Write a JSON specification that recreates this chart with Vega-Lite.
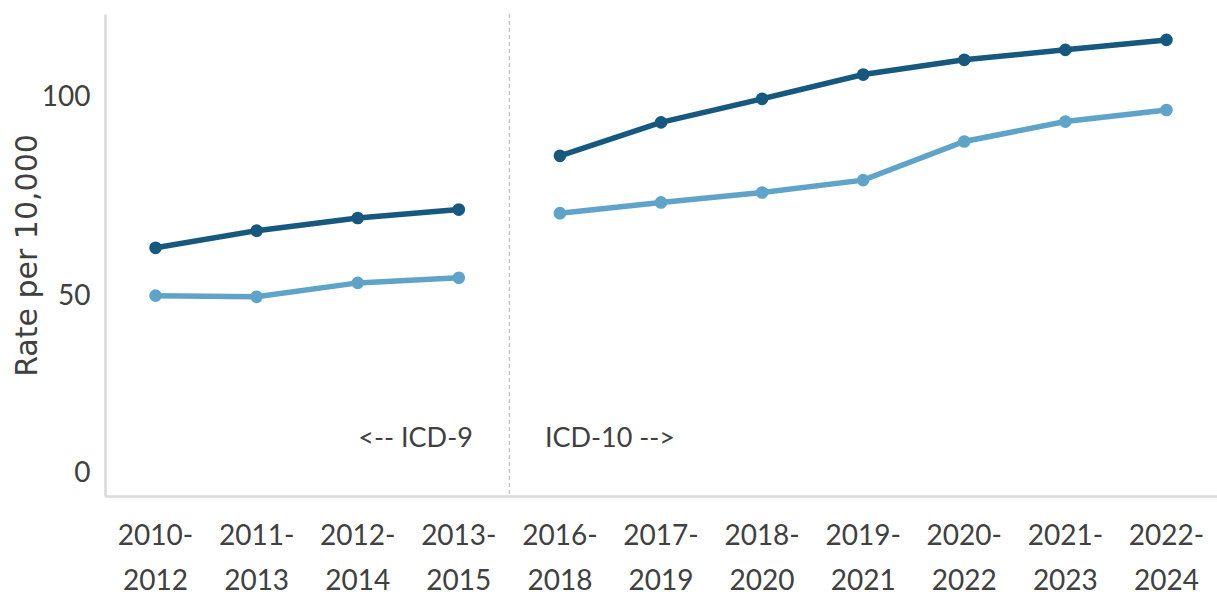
{
  "$schema": "https://vega.github.io/schema/vega-lite/v6.json",
  "width": 1112,
  "height": 482,
  "padding": {"left": 12, "top": 13, "right": 0, "bottom": 0},
  "background": "white",
  "config": {"view": {"stroke": null}},
  "datasets": {
    "rates": [
      {"period": "2010-2012", "group": "Dark", "coding": "ICD-9", "rate": 62.3},
      {"period": "2011-2013", "group": "Dark", "coding": "ICD-9", "rate": 66.6},
      {"period": "2012-2014", "group": "Dark", "coding": "ICD-9", "rate": 69.8},
      {"period": "2013-2015", "group": "Dark", "coding": "ICD-9", "rate": 71.9},
      {"period": "2016-2018", "group": "Dark", "coding": "ICD-10", "rate": 85.4},
      {"period": "2017-2019", "group": "Dark", "coding": "ICD-10", "rate": 93.8},
      {"period": "2018-2020", "group": "Dark", "coding": "ICD-10", "rate": 99.7},
      {"period": "2019-2021", "group": "Dark", "coding": "ICD-10", "rate": 105.8},
      {"period": "2020-2022", "group": "Dark", "coding": "ICD-10", "rate": 109.5},
      {"period": "2021-2023", "group": "Dark", "coding": "ICD-10", "rate": 112.0},
      {"period": "2022-2024", "group": "Dark", "coding": "ICD-10", "rate": 114.5},
      {"period": "2010-2012", "group": "Light", "coding": "ICD-9", "rate": 50.3},
      {"period": "2011-2013", "group": "Light", "coding": "ICD-9", "rate": 50.0},
      {"period": "2012-2014", "group": "Light", "coding": "ICD-9", "rate": 53.5},
      {"period": "2013-2015", "group": "Light", "coding": "ICD-9", "rate": 54.8},
      {"period": "2016-2018", "group": "Light", "coding": "ICD-10", "rate": 71.0},
      {"period": "2017-2019", "group": "Light", "coding": "ICD-10", "rate": 73.7},
      {"period": "2018-2020", "group": "Light", "coding": "ICD-10", "rate": 76.2},
      {"period": "2019-2021", "group": "Light", "coding": "ICD-10", "rate": 79.3},
      {"period": "2020-2022", "group": "Light", "coding": "ICD-10", "rate": 89.0},
      {"period": "2021-2023", "group": "Light", "coding": "ICD-10", "rate": 94.0},
      {"period": "2022-2024", "group": "Light", "coding": "ICD-10", "rate": 96.9}
    ],
    "divider": [{"period": "2013-2015"}],
    "notes": [
      {"period": "2013-2015", "rate": 14.3, "label": "<-- ICD-9", "side": "left"},
      {"period": "2016-2018", "rate": 14.3, "label": "ICD-10 -->", "side": "right"}
    ]
  },
  "layer": [
    {
      "data": {"name": "divider"},
      "mark": {"type": "rule", "color": "#c8c8c8", "strokeWidth": 1.5, "strokeDash": [4, 3]},
      "encoding": {
        "x": {"field": "period", "type": "ordinal", "bandPosition": 1,
              "scale": {"type": "band", "paddingInner": 0, "paddingOuter": 0}}
      }
    },
    {
      "data": {"name": "rates"},
      "mark": {"type": "line", "strokeWidth": 5.5, "point": {"filled": true, "size": 160}},
      "encoding": {
        "x": {
          "field": "period", "type": "ordinal", "bandPosition": 0.5,
          "scale": {"type": "band", "paddingInner": 0, "paddingOuter": 0},
          "axis": {
            "title": null,
            "labelAngle": 0,
            "labelAlign": "center",
            "labelExpr": "[split(datum.label, '-')[0] + '-', split(datum.label, '-')[1]]",
            "labelFont": "Lato, sans-serif",
            "labelFontSize": 28,
            "labelLineHeight": 45,
            "labelColor": "#404040",
            "labelPadding": 40,
            "ticks": false,
            "domainColor": "#d9d9d9",
            "domainWidth": 2.5,
            "grid": false
          }
        },
        "y": {
          "field": "rate", "type": "quantitative",
          "scale": {"domain": [0, 121], "nice": false},
          "axis": {
            "values": [0, 50, 100],
            "title": "Rate per 10,000",
            "titleFont": "DejaVu Sans",
            "titleFontSize": 30,
            "titleFontWeight": "normal",
            "titleColor": "#404040",
            "titlePadding": 3,
            "minExtent": 60,
            "maxExtent": 60,
            "labelFont": "Lato, sans-serif",
            "labelFontSize": 28,
            "labelColor": "#404040",
            "labelPadding": 15,
            "labelOffset": {"condition": {"test": "datum.value === 0", "value": -23}, "value": 0},
            "ticks": false,
            "grid": false,
            "domainColor": "#d9d9d9",
            "domainWidth": 2.5
          }
        },
        "color": {
          "field": "group", "type": "nominal",
          "scale": {"domain": ["Dark", "Light"], "range": ["#17587e", "#5fa4c8"]},
          "legend": null
        },
        "detail": {"field": "coding"}
      }
    },
    {
      "data": {"name": "notes"},
      "transform": [{"filter": "datum.side === 'left'"}],
      "mark": {"type": "text", "align": "right", "baseline": "middle", "dx": 14,
               "font": "Lato, sans-serif", "fontSize": 27, "color": "#404040"},
      "encoding": {
        "x": {"field": "period", "type": "ordinal", "bandPosition": 0.5},
        "y": {"field": "rate", "type": "quantitative"},
        "text": {"field": "label"}
      }
    },
    {
      "data": {"name": "notes"},
      "transform": [{"filter": "datum.side === 'right'"}],
      "mark": {"type": "text", "align": "left", "baseline": "middle", "dx": -15,
               "font": "Lato, sans-serif", "fontSize": 27, "color": "#404040"},
      "encoding": {
        "x": {"field": "period", "type": "ordinal", "bandPosition": 0.5},
        "y": {"field": "rate", "type": "quantitative"},
        "text": {"field": "label"}
      }
    }
  ]
}
